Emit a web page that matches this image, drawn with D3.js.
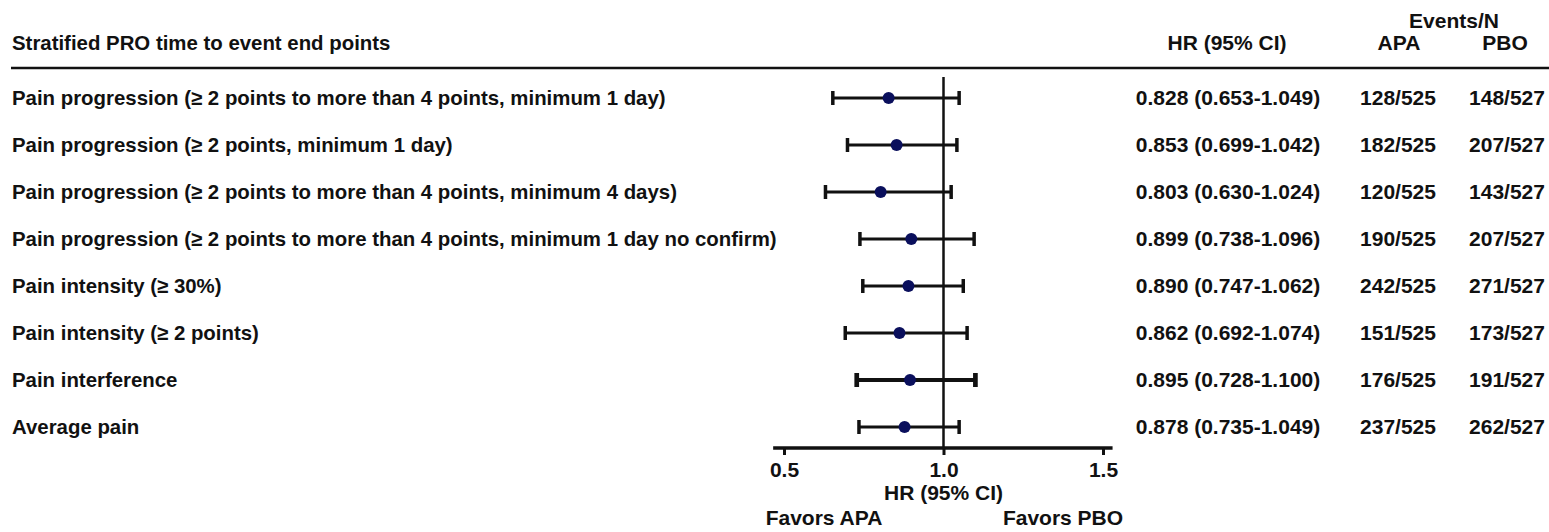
<!DOCTYPE html>
<html>
<head>
<meta charset="utf-8">
<script src="https://cdn.jsdelivr.net/npm/d3@7"></script>
<style>
  body { margin: 0; background: #fff; }
  text { font-family: "Liberation Sans", Arial, sans-serif; font-weight: bold; fill: #111; }
</style>
</head>
<body>
<script>
var labels = [
  "Pain progression (\u2265 2 points to more than 4 points, minimum 1 day)",
  "Pain progression (\u2265 2 points, minimum 1 day)",
  "Pain progression (\u2265 2 points to more than 4 points, minimum 4 days)",
  "Pain progression (\u2265 2 points to more than 4 points, minimum 1 day no confirm)",
  "Pain intensity (\u2265 30%)",
  "Pain intensity (\u2265 2 points)",
  "Pain interference",
  "Average pain"
];
var hr   = [0.828, 0.853, 0.803, 0.899, 0.890, 0.862, 0.895, 0.878];
var low  = [0.653, 0.699, 0.630, 0.738, 0.747, 0.692, 0.728, 0.735];
var high = [1.049, 1.042, 1.024, 1.096, 1.062, 1.074, 1.100, 1.049];
var apaEvents = ["128/525","182/525","120/525","190/525","242/525","151/525","176/525","237/525"];
var pboEvents = ["148/527","207/527","143/527","207/527","271/527","173/527","191/527","262/527"];
var xTicks = [0.5, 1.0, 1.5];

var W = 1549, H = 532, fs = 21, lfs = 20.4;

var svg = d3.select("body").append("svg").attr("width", W).attr("height", H);

var x = d3.scaleLinear().domain([0.5, 1.5]).range([784, 1103]);
var y = d3.scalePoint().domain(d3.range(labels.length)).range([98, 427]);

// header
svg.append("text").attr("x", 12).attr("y", 50).attr("font-size", lfs)
  .text("Stratified PRO time to event end points");
svg.append("text").attr("x", 1227).attr("y", 50).attr("font-size", fs).attr("text-anchor", "middle")
  .text("HR (95% CI)");
svg.append("text").attr("x", 1454).attr("y", 28).attr("font-size", fs).attr("text-anchor", "middle")
  .text("Events/N");
svg.append("text").attr("x", 1399).attr("y", 50).attr("font-size", fs).attr("text-anchor", "middle")
  .text("APA");
svg.append("text").attr("x", 1505).attr("y", 50).attr("font-size", fs).attr("text-anchor", "middle")
  .text("PBO");
svg.append("line").attr("x1", 11).attr("x2", W).attr("y1", 68).attr("y2", 68)
  .attr("stroke", "#111").attr("stroke-width", 2.5);

var rows = svg.selectAll("g.row").data(labels).enter().append("g").attr("class", "row");

rows.append("text").attr("x", 12).attr("y", function(d,i){return y(i) + 7;})
  .attr("font-size", lfs).text(function(d){return d;});
rows.append("text").attr("x", 1228).attr("y", function(d,i){return y(i) + 7;})
  .attr("font-size", fs).attr("text-anchor", "middle")
  .text(function(d,i){return hr[i].toFixed(3) + " (" + low[i].toFixed(3) + "-" + high[i].toFixed(3) + ")";});
rows.append("text").attr("x", 1398).attr("y", function(d,i){return y(i) + 7;})
  .attr("font-size", fs).attr("text-anchor", "middle").text(function(d,i){return apaEvents[i];});
rows.append("text").attr("x", 1507).attr("y", function(d,i){return y(i) + 7;})
  .attr("font-size", fs).attr("text-anchor", "middle").text(function(d,i){return pboEvents[i];});

// reference line at HR = 1
svg.append("line").attr("x1", x(1)).attr("x2", x(1)).attr("y1", 77).attr("y2", 448)
  .attr("stroke", "#111").attr("stroke-width", 2.5);

// error bars
function sw(i){ return i === 6 ? 4 : 2.8; }
rows.append("line")
  .attr("x1", function(d,i){return x(low[i]);}).attr("x2", function(d,i){return x(high[i]);})
  .attr("y1", function(d,i){return y(i);}).attr("y2", function(d,i){return y(i);})
  .attr("stroke", "#111").attr("stroke-width", function(d,i){return sw(i);});
rows.append("line")
  .attr("x1", function(d,i){return x(low[i]);}).attr("x2", function(d,i){return x(low[i]);})
  .attr("y1", function(d,i){return y(i) - 7;}).attr("y2", function(d,i){return y(i) + 7;})
  .attr("stroke", "#111").attr("stroke-width", function(d,i){return sw(i) + 0.7;});
rows.append("line")
  .attr("x1", function(d,i){return x(high[i]);}).attr("x2", function(d,i){return x(high[i]);})
  .attr("y1", function(d,i){return y(i) - 7;}).attr("y2", function(d,i){return y(i) + 7;})
  .attr("stroke", "#111").attr("stroke-width", function(d,i){return sw(i) + 0.7;});
rows.append("circle")
  .attr("cx", function(d,i){return x(hr[i]);}).attr("cy", function(d,i){return y(i);})
  .attr("r", 6).attr("fill", "#0a0f5c");

// x axis
var xAxis = d3.axisBottom(x).tickValues(xTicks).tickSize(7).tickSizeOuter(0)
  .tickFormat(d3.format(".1f"));
var ax = svg.append("g").attr("transform", "translate(0,448)").call(xAxis);
ax.select(".domain").remove();
ax.append("line").attr("x1", x(0.466)).attr("x2", x(1.53)).attr("y1", 0).attr("y2", 0)
  .attr("stroke", "#111").attr("stroke-width", 3.5);
ax.selectAll(".tick line").attr("stroke", "#111").attr("stroke-width", 3);
ax.selectAll(".tick text").attr("font-size", fs).attr("dy", "0.9em")
  .style("font-family", "Liberation Sans, Arial, sans-serif").attr("fill", "#111");

svg.append("text").attr("x", x(1)).attr("y", 500).attr("font-size", fs).attr("text-anchor", "middle")
  .text("HR (95% CI)");
svg.append("text").attr("x", 824).attr("y", 525).attr("font-size", fs).attr("text-anchor", "middle")
  .text("Favors APA");
svg.append("text").attr("x", 1063).attr("y", 525).attr("font-size", fs).attr("text-anchor", "middle")
  .text("Favors PBO");
</script>
</body>
</html>
